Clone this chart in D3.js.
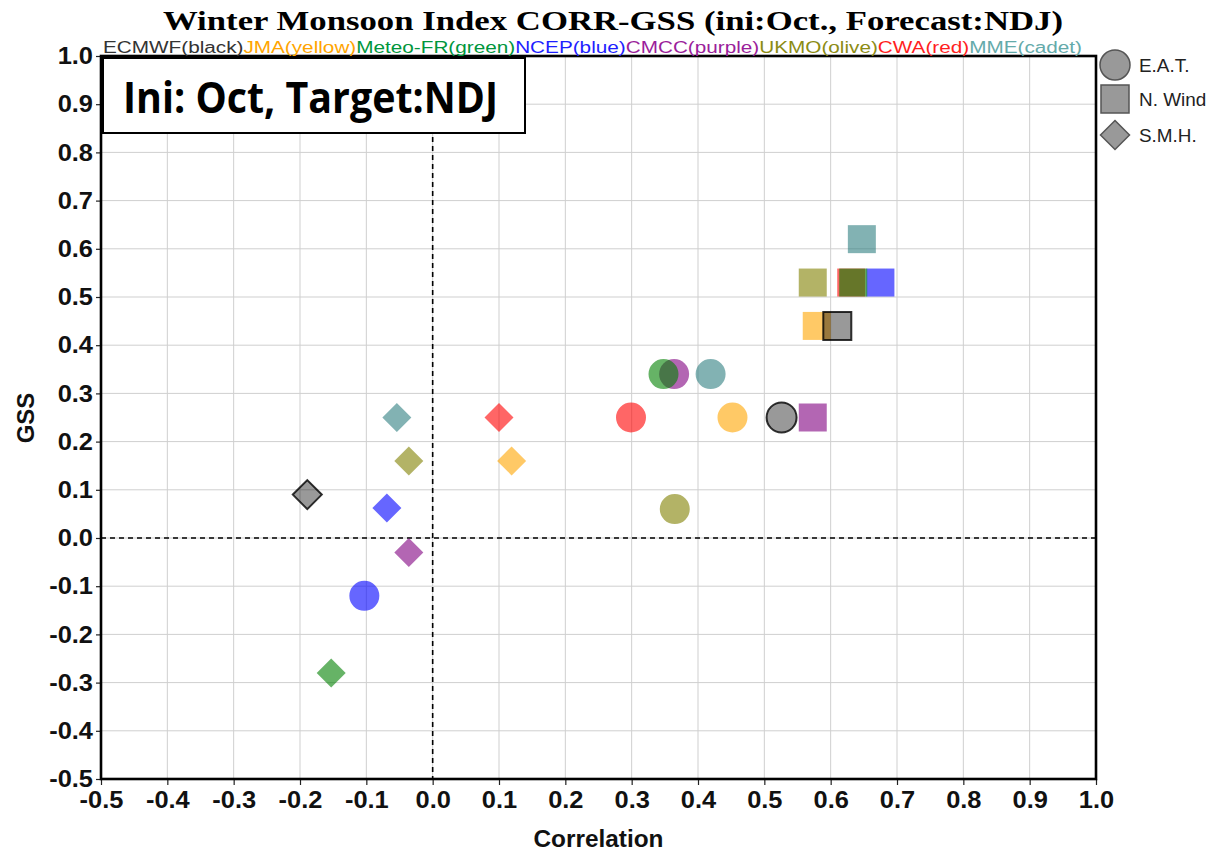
<!DOCTYPE html>
<html>
<head>
<meta charset="utf-8">
<script src="https://cdn.jsdelivr.net/npm/d3@7"></script>
<style>
  html, body { margin: 0; padding: 0; background: #fff; }
  svg { display: block; }
</style>
</head>
<body>
<svg id="chart" width="1216" height="855"></svg>
<script>
// ---------------- DATA ----------------
const models      = ["ECMWF", "JMA", "Meteo-FR", "NCEP", "CMCC", "UKMO", "CWA", "MME"];
const colorNames  = ["black", "yellow", "green", "blue", "purple", "olive", "red", "cadet"];
const modelColors = ["#000000", "#FFA500", "#008000", "#0000FF", "#800080", "#808000", "#FF0000", "#2E7F80"];
const textColors  = ["#333333", "#FFA500", "#00963C", "#1E1EFF", "#9B1E9B", "#8C8C14", "#FF1E1E", "#64AAAA"];

// E.A.T. (circles)
const eatCorr = [0.526, 0.452, 0.348, -0.103, 0.364, 0.365, 0.299, 0.419];
const eatGss  = [0.25, 0.25, 0.34, -0.12, 0.34, 0.06, 0.25, 0.34];
// N. Wind (squares)
const nwCorr  = [0.610, 0.579, 0.634, 0.675, 0.573, 0.573, 0.631, 0.647];
const nwGss   = [0.44, 0.44, 0.53, 0.53, 0.25, 0.53, 0.53, 0.62];
// S.M.H. (diamonds)
const smhCorr = [-0.189, 0.119, -0.153, -0.069, -0.036, -0.036, 0.100, -0.054];
const smhGss  = [0.09, 0.16, -0.28, 0.062, -0.03, 0.16, 0.25, 0.25];

const indices     = ["E.A.T.", "N. Wind", "S.M.H."];
const xTickValues = [-0.5, -0.4, -0.3, -0.2, -0.1, 0.0, 0.1, 0.2, 0.3, 0.4, 0.5, 0.6, 0.7, 0.8, 0.9, 1.0];
const yTickValues = [-0.5, -0.4, -0.3, -0.2, -0.1, 0.0, 0.1, 0.2, 0.3, 0.4, 0.5, 0.6, 0.7, 0.8, 0.9, 1.0];

const titleText = "Winter Monsoon Index CORR-GSS (ini:Oct., Forecast:NDJ)";
const boxText   = "Ini: Oct, Target:NDJ";
const xTitle    = "Correlation";
const yTitle    = "GSS";

// ---------------- LAYOUT ----------------
const svg = d3.select("#chart");
const L = 101, R = 1096, T = 56, B = 779;
const STRETCH = 1.06;
const sansFont = "'Liberation Sans', Arial, sans-serif";

const x = d3.scaleLinear().domain([-0.5, 1.0]).range([L, R]);
const y = d3.scaleLinear().domain([-0.5, 1.0]).range([B, T]);

function stretch(sel, factor) {
  sel.each(function () {
    const w = this.getComputedTextLength();
    d3.select(this).attr("textLength", w * factor).attr("lengthAdjust", "spacingAndGlyphs");
  });
}
function fitTo(sel, width) {
  sel.attr("textLength", width).attr("lengthAdjust", "spacingAndGlyphs");
}

// grid
const grid = svg.append("g");
grid.selectAll("line.v").data(xTickValues).join("line")
  .attr("x1", d => x(d)).attr("x2", d => x(d)).attr("y1", T).attr("y2", B)
  .attr("stroke", "#cfcfcf").attr("stroke-width", 1);
grid.selectAll("line.h").data(yTickValues).join("line")
  .attr("x1", L).attr("x2", R).attr("y1", d => y(d)).attr("y2", d => y(d))
  .attr("stroke", "#cfcfcf").attr("stroke-width", 1);

// zero dashed lines
svg.append("line").attr("x1", x(0)).attr("x2", x(0)).attr("y1", T).attr("y2", B)
  .attr("stroke", "#000").attr("stroke-width", 1.6).attr("stroke-dasharray", "5,4");
svg.append("line").attr("x1", L).attr("x2", R).attr("y1", y(0)).attr("y2", y(0))
  .attr("stroke", "#000").attr("stroke-width", 1.6).attr("stroke-dasharray", "5,4");

// axes
const fmt = d => d3.format(".1f")(d).replace("\u2212", "-");
const xAxis = svg.append("g").attr("transform", `translate(0,${B})`)
  .call(d3.axisBottom(x).tickValues(xTickValues).tickFormat(fmt).tickSize(6).tickPadding(6));
const yAxis = svg.append("g").attr("transform", `translate(${L},0)`)
  .call(d3.axisLeft(y).tickValues(yTickValues).tickFormat(fmt).tickSize(5).tickPadding(3));
[xAxis, yAxis].forEach(a => {
  a.select(".domain").remove();
  a.selectAll(".tick line").attr("stroke", "#222").attr("stroke-width", 1.2);
  a.selectAll(".tick text").attr("font-family", sansFont).attr("font-size", 24)
    .attr("font-weight", "bold").attr("fill", "#111");
});
stretch(xAxis.selectAll(".tick text"), STRETCH);
stretch(yAxis.selectAll(".tick text"), STRETCH);

// frame
svg.append("rect").attr("x", L).attr("y", T).attr("width", R - L).attr("height", B - T)
  .attr("fill", "none").attr("stroke", "#000").attr("stroke-width", 2.6);

// axis titles
const xt = svg.append("text").attr("x", (L + R) / 2).attr("y", 847).attr("text-anchor", "middle")
  .attr("font-family", sansFont).attr("font-size", 23).attr("font-weight", "bold").attr("fill", "#111")
  .text(xTitle);
stretch(xt, STRETCH);
const yt = svg.append("text").attr("transform", "translate(34,418) rotate(-90)").attr("text-anchor", "middle")
  .attr("font-family", sansFont).attr("font-size", 24).attr("font-weight", "bold").attr("fill", "#111")
  .text(yTitle);

// title
const tt = svg.append("text").attr("x", 613).attr("y", 30).attr("text-anchor", "middle")
  .attr("font-family", "'Liberation Serif', 'Times New Roman', serif").attr("font-size", 28)
  .attr("font-weight", "bold").attr("fill", "#000").text(titleText);
fitTo(tt, 900);

// colored model legend line
const sub = svg.append("text").attr("x", 103).attr("y", 53)
  .attr("font-family", sansFont).attr("font-size", 16);
models.forEach((m, i) => {
  sub.append("tspan").attr("fill", textColors[i]).text(`${m}(${colorNames[i]})`);
});
fitTo(sub, 979);

// box
svg.append("rect").attr("x", 103).attr("y", 58).attr("width", 422).attr("height", 75)
  .attr("fill", "#fff").attr("stroke", "#000").attr("stroke-width", 2);
const bt = svg.append("text").attr("x", 123).attr("y", 113)
  .attr("font-family", "'Open Sans', sans-serif").attr("font-size", 43).attr("font-weight", "bold")
  .attr("fill", "#000").text(boxText);
fitTo(bt, 375);

// markers
const FILL_OP = 0.6;
const symCircle  = (cx, cy) => `M${cx + 15},${cy}A15,15 0 1,1 ${cx - 15},${cy}A15,15 0 1,1 ${cx + 15},${cy}Z`;
const symSquare  = (cx, cy) => `M${cx - 14},${cy - 14}h28v28h-28Z`;
const symDiamond = (cx, cy) => `M${cx},${cy - 14.5}L${cx + 14.5},${cy}L${cx},${cy + 14.5}L${cx - 14.5},${cy}Z`;

const series = [
  { corr: eatCorr, gss: eatGss, sym: symCircle },
  { corr: nwCorr,  gss: nwGss,  sym: symSquare },
  { corr: smhCorr, gss: smhGss, sym: symDiamond }
];
const order = d3.range(models.length).reverse();
const markers = svg.append("g");
series.forEach(s => {
  markers.append("g").selectAll("path").data(order).join("path")
    .attr("d", i => s.sym(x(s.corr[i]), y(s.gss[i])))
    .attr("fill", i => modelColors[i])
    .attr("fill-opacity", i => i === 0 ? 0.4 : FILL_OP)
    .attr("stroke", i => i === 0 ? "#000" : "none")
    .attr("stroke-opacity", 0.8)
    .attr("stroke-width", 2);
});

// right legend
const leg = svg.append("g");
const legSyms = [symCircle, symSquare, symDiamond];
const legY = [65, 99, 135];
indices.forEach((name, k) => {
  leg.append("path").attr("d", legSyms[k](1115, legY[k]))
    .attr("fill", "#999").attr("stroke", "#555").attr("stroke-width", 1.5);
  const t = leg.append("text").attr("x", 1139).attr("y", legY[k] + 7)
    .attr("font-family", sansFont).attr("font-size", 18).attr("fill", "#222").text(name);
  stretch(t, 1.05);
});
</script>
</body>
</html>
